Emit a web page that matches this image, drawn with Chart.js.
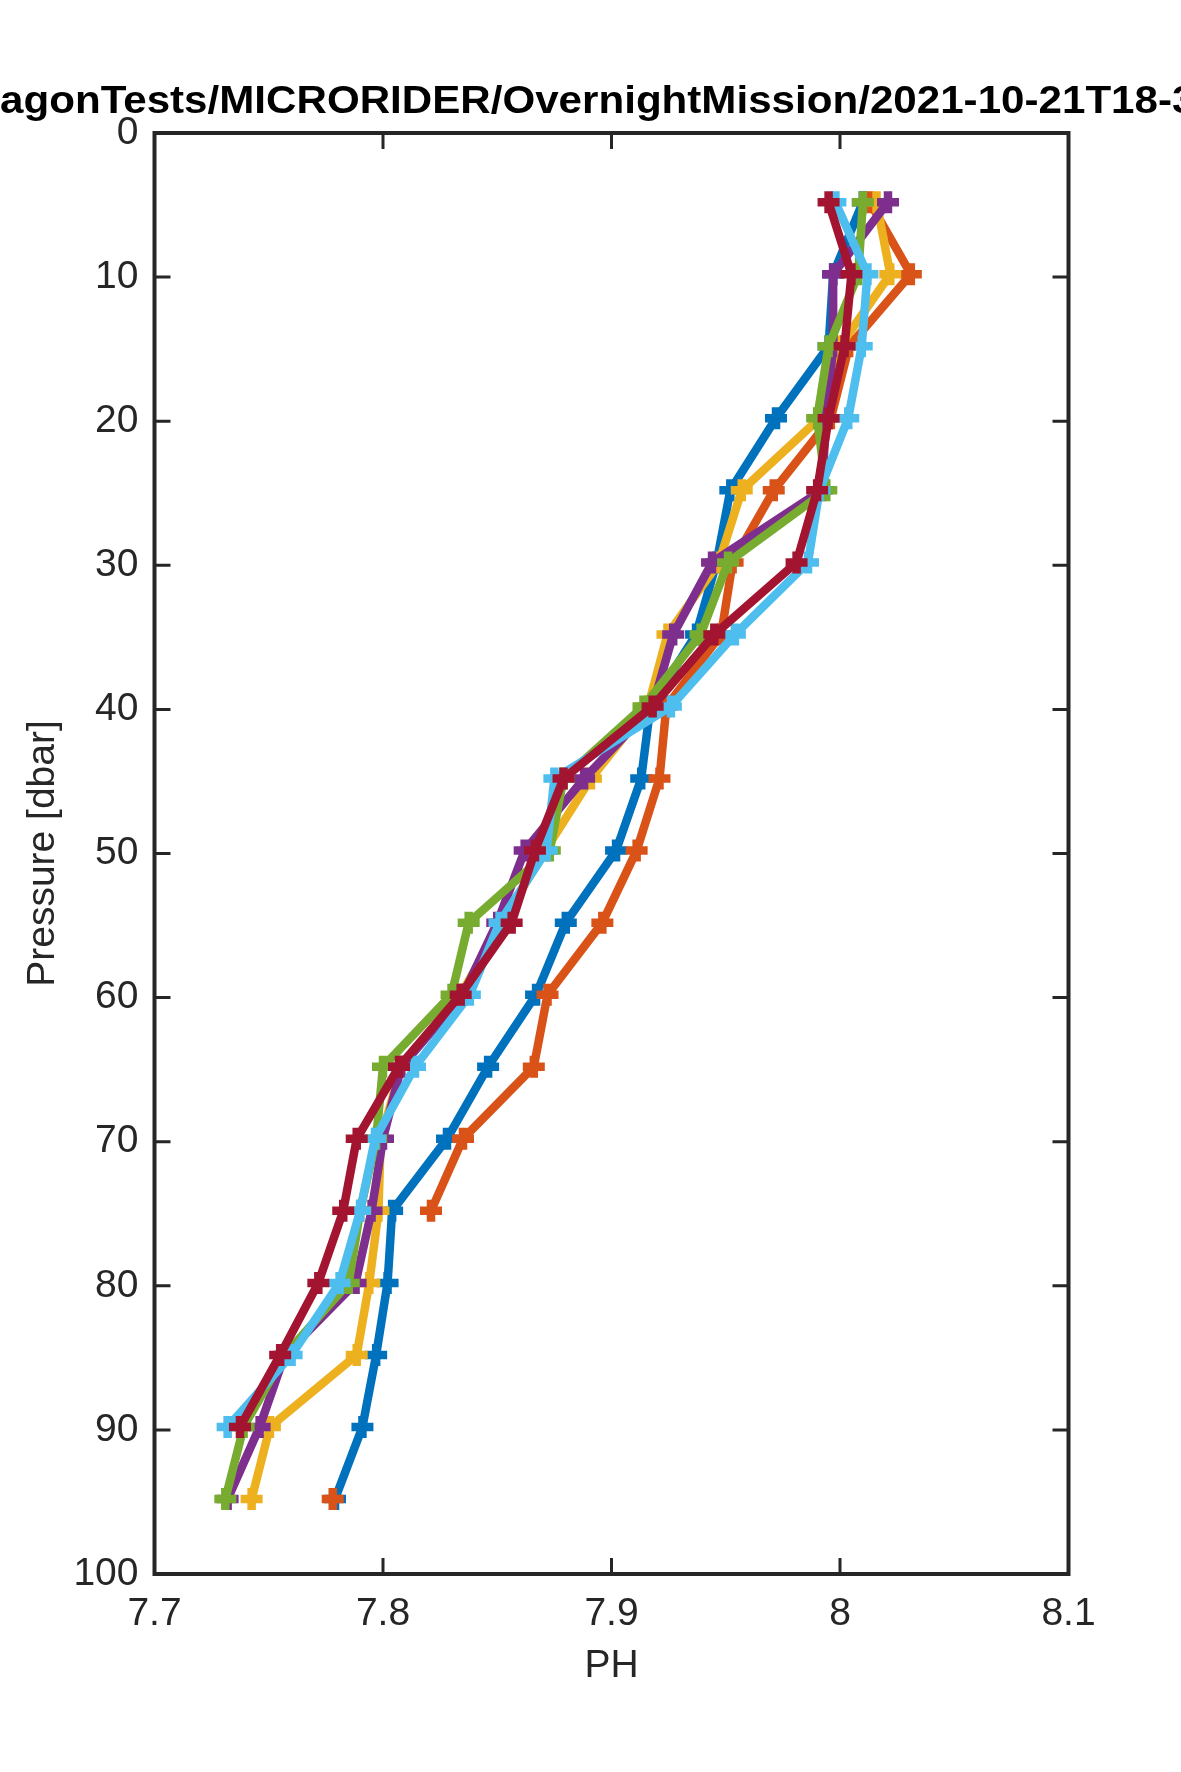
<!DOCTYPE html>
<html>
<head>
<meta charset="utf-8">
<script src="https://cdn.jsdelivr.net/npm/chart.js@4.4.1/dist/chart.umd.min.js"></script>
<style>
  html, body { margin: 0; padding: 0; background: #ffffff; }
  #wrap { width: 1181px; height: 1772px; }
</style>
</head>
<body>
<div id="wrap"><canvas id="c" width="1181" height="1772"></canvas></div>
<script>
// ---------------- data ----------------
const pressure = [4.8, 9.8, 14.8, 19.8, 24.8, 29.8, 34.8, 39.8, 44.8, 49.8, 54.8, 59.8, 64.8, 69.8, 74.8, 79.8, 84.8, 89.8, 94.8];

const phBlue      = [8.010, 7.997, 7.995, 7.972, 7.952, 7.946, 7.937, 7.917, 7.913, 7.902, 7.880, 7.867, 7.846, 7.828, 7.804, 7.802, 7.797, 7.791, 7.779];
const phOrange    = [8.013, 8.031, 8.004, 7.996, 7.971, 7.953, 7.948, 7.924, 7.921, 7.911, 7.896, 7.872, 7.866, 7.835, 7.821, null, null, null, 7.778];
const phYellow    = [8.016, 8.022, 8.000, 7.991, 7.957, 7.947, 7.9245, 7.916, 7.891, 7.871, 7.852, 7.834, 7.808, 7.799, 7.798, 7.794, 7.7885, 7.7505, 7.7425];
const phPurple    = [8.021, 7.997, 7.997, 7.994, 7.992, 7.944, 7.927, 7.918, 7.888, 7.862, 7.850, 7.835, 7.808, 7.800, 7.795, 7.788, 7.757, 7.746, 7.732];
const phGreen     = [8.010, 8.008, 7.995, 7.990, 7.994, 7.951, 7.939, 7.914, 7.879, 7.873, 7.8375, 7.830, 7.800, 7.797, 7.790, 7.785, 7.757, 7.739, 7.731];
const phLightBlue = [7.998, 8.012, 8.0095, 8.0036, 7.991, 7.986, 7.954, 7.926, 7.875, 7.8716, 7.851, 7.838, 7.814, 7.7965, 7.790, 7.781, 7.760, 7.732, null];
const phDarkRed   = [7.995, 8.005, 8.002, 7.995, 7.990, 7.981, 7.945, 7.918, 7.879, 7.8665, 7.8563, 7.834, 7.807, 7.7885, 7.7826, 7.7717, 7.755, 7.7374, null];

const seriesValues = [phBlue, phOrange, phYellow, phPurple, phGreen, phLightBlue, phDarkRed];
const seriesColors = ['#0072BD', '#D95319', '#EDB120', '#7E2F8E', '#77AC30', '#4DBEEE', '#A2142F'];

const xTickValues = [7.7, 7.8, 7.9, 8.0, 8.1];
const xTickLabels = ['7.7', '7.8', '7.9', '8', '8.1'];
const yTickValues = [0, 10, 20, 30, 40, 50, 60, 70, 80, 90, 100];
const yTickLabels = ['0', '10', '20', '30', '40', '50', '60', '70', '80', '90', '100'];

const titleText = 'ParagonTests/MICRORIDER/OvernightMission/2021-10-21T18-30';
const xLabel = 'PH';
const yLabel = 'Pressure [dbar]';

// ---------------- chart ----------------
const FONT = "'Liberation Sans', Arial, Helvetica, sans-serif";
const AX = '#262626';

const datasets = seriesValues.map((vals, i) => ({
  data: pressure.map((p, k) => ({ x: vals[k], y: p })),
  borderColor: seriesColors[i],
  backgroundColor: seriesColors[i],
  borderWidth: 8.5,
  borderJoinStyle: 'round',
  borderCapStyle: 'round',
  pointStyle: 'cross',
  pointRadius: 11,
  pointBorderWidth: 8.5,
  pointBorderColor: seriesColors[i],
  pointBackgroundColor: seriesColors[i],
  showLine: true,
  spanGaps: false,
  tension: 0,
  order: seriesValues.length - i
}));

const matlabAxes = {
  id: 'matlabAxes',
  afterDatasetsDraw(chart) {
    const ctx = chart.ctx;
    const a = chart.chartArea;
    const xs = chart.scales.x, ys = chart.scales.y;
    const tl = 16;
    ctx.save();
    ctx.strokeStyle = AX;
    ctx.lineCap = 'butt';
    ctx.lineWidth = 3;
    ctx.beginPath();
    xTickValues.forEach(v => {
      const px = xs.getPixelForValue(v);
      ctx.moveTo(px, a.bottom); ctx.lineTo(px, a.bottom - tl);
      ctx.moveTo(px, a.top); ctx.lineTo(px, a.top + tl);
    });
    yTickValues.forEach(v => {
      const py = ys.getPixelForValue(v);
      ctx.moveTo(a.left, py); ctx.lineTo(a.left + tl, py);
      ctx.moveTo(a.right, py); ctx.lineTo(a.right - tl, py);
    });
    ctx.stroke();
    ctx.lineWidth = 4;
    ctx.strokeRect(a.left, a.top, a.right - a.left, a.bottom - a.top);
    ctx.restore();
  },
  afterDraw(chart) {
    // figure title (clipped by the canvas edges like the reference)
    const ctx = chart.ctx;
    ctx.save();
    ctx.font = "bold 38px " + FONT;
    ctx.fillStyle = '#000000';
    ctx.textAlign = 'left';
    ctx.textBaseline = 'alphabetic';
    const visiblePart = 'agonTests/MICRORIDER/OvernightMission/2021-10-21T18-';
    const sx = 1172 / ctx.measureText(visiblePart).width;
    const lead = ctx.measureText('Par').width * sx;
    ctx.translate(-lead, 113);
    ctx.scale(sx, 1);
    ctx.fillText(titleText, 0, 0);
    ctx.restore();
  }
};

new Chart(document.getElementById('c'), {
  type: 'scatter',
  data: { datasets },
  options: {
    responsive: false,
    devicePixelRatio: 1,
    animation: false,
    layout: { padding: { left: 0, top: 133, right: 112.5, bottom: 0 } },
    plugins: { legend: { display: false }, tooltip: { enabled: false }, title: { display: false } },
    scales: {
      x: {
        type: 'linear',
        min: 7.7, max: 8.1,
        position: 'bottom',
        grid: { display: false, drawTicks: false },
        border: { display: false },
        afterBuildTicks: s => { s.ticks = xTickValues.map(v => ({ value: v })); },
        afterFit: s => { s.height = 198; },
        ticks: {
          autoSkip: false,
          maxRotation: 0,
          padding: 21,
          color: AX,
          font: { family: FONT, size: 39, lineHeight: 1 },
          callback: (v, i) => xTickLabels[i]
        },
        title: {
          display: true, text: xLabel, color: AX,
          font: { family: FONT, size: 39, lineHeight: 1 },
          padding: { top: 0, bottom: 86.5 }
        }
      },
      y: {
        type: 'linear',
        min: 0, max: 100,
        reverse: true,
        position: 'left',
        grid: { display: false, drawTicks: false },
        border: { display: false },
        afterBuildTicks: s => { s.ticks = yTickValues.map(v => ({ value: v })); },
        afterFit: s => { s.width = 154.5; },
        ticks: {
          autoSkip: false,
          padding: 16,
          color: AX,
          font: { family: FONT, size: 39, lineHeight: 1 },
          callback: (v, i) => yTickLabels[i]
        },
        title: {
          display: true, text: yLabel, color: AX,
          font: { family: FONT, size: 39, lineHeight: 1 },
          padding: { top: 23.5, bottom: 0 }
        }
      }
    }
  },
  plugins: [matlabAxes]
});
</script>
</body>
</html>
